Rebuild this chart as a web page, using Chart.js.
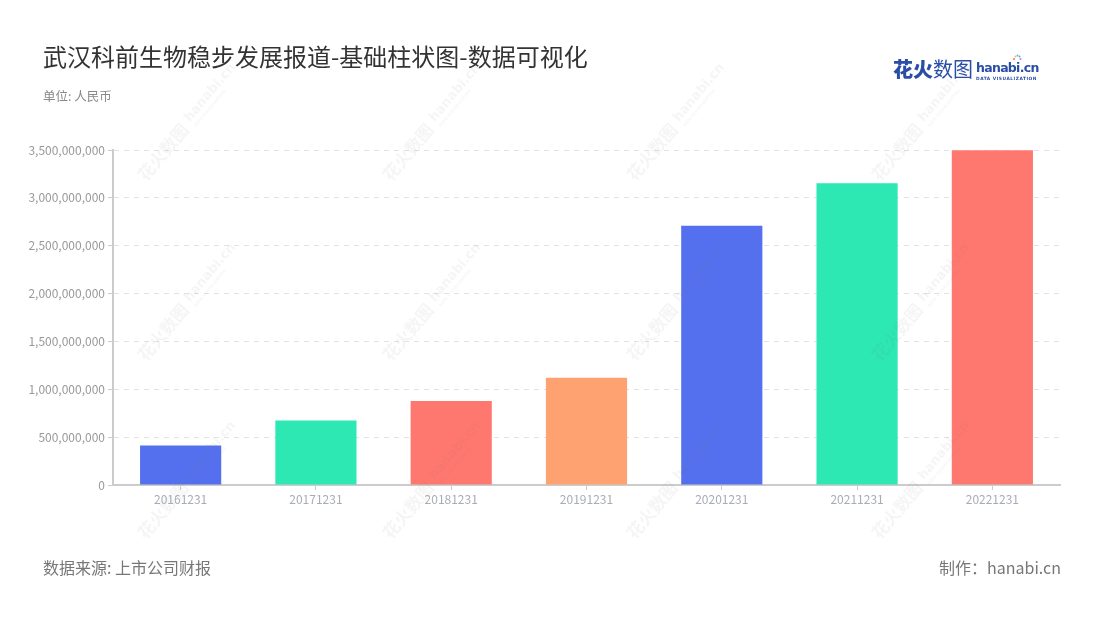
<!DOCTYPE html>
<html>
<head>
<meta charset="utf-8">
<script src="https://cdn.jsdelivr.net/npm/chart.js@4.4.1/dist/chart.umd.min.js"></script>
<style>
  html, body { margin: 0; padding: 0; background: #fff; }
  body { width: 1100px; height: 620px; position: relative; overflow: hidden; font-family: "Noto Sans CJK SC", "Noto Sans", sans-serif; }
  #wrap { position: absolute; left: 0; top: 0; width: 1100px; height: 620px; }
  .title { position: absolute; left: 43px; top: 39px; font-size: 24px; color: #333; line-height: 34px; white-space: nowrap; }
  .unit { position: absolute; left: 43px; top: 86px; font-size: 12.5px; color: #888; line-height: 20px; }
  .src { position: absolute; left: 43px; top: 555px; font-size: 16px; color: #777; line-height: 24px; }
  .made { position: absolute; right: 39px; top: 555px; font-size: 16px; color: #777; line-height: 24px; }
  .logo { position: absolute; left: 893px; top: 56px; height: 28px; white-space: nowrap; }
  .logo .cn { font-size: 20px; font-weight: 900; color: #2a4ea6; line-height: 26px; vertical-align: top; display: inline-block; }
  .logo .cn2 { font-weight: 400; }
  .logo .en { display: inline-block; vertical-align: top; margin-left: 3px; position: relative; top: 3px; }
  .logo .en .big { font-family: "DejaVu Sans", sans-serif; font-size: 12.5px; font-weight: bold; color: #2a4ea6; line-height: 17px; letter-spacing: -0.7px; display: block; }
  .logo .en .small { font-family: "DejaVu Sans", sans-serif; font-size: 4.4px; font-weight: bold; color: #2a4ea6; letter-spacing: 0.5px; line-height: 6px; display: block; }
  .logo .spark { position: absolute; left: 36px; top: -5px; width: 10px; height: 8px; }
</style>
</head>
<body>
<div id="wrap"><canvas id="c" width="1100" height="620"></canvas></div>
<div class="title">武汉科前生物稳步发展报道-基础柱状图-数据可视化</div>
<div class="unit">单位: 人民币</div>
<div class="logo"><span class="cn">花火<span class="cn2">数图</span></span><span class="en"><span class="big">hanabi.cn</span><span class="small">DATA VISUALIZATION</span>
<svg class="spark" viewBox="0 0 10 8"><circle cx="2" cy="5" r="1" fill="#ff6b6b"/><circle cx="3.5" cy="2.5" r="1" fill="#ffb84d"/><circle cx="5.5" cy="1.5" r="1" fill="#4dd0a0"/><circle cx="7.5" cy="2.5" r="1" fill="#4da6ff"/><circle cx="8.5" cy="5" r="1" fill="#b07cff"/></svg></span></div>
<div class="src">数据来源: 上市公司财报</div>
<div class="made">制作：hanabi.cn</div>
<script>
const categories = ["20161231", "20171231", "20181231", "20191231", "20201231", "20211231", "20221231"];
const values = [413000000, 674000000, 878000000, 1121000000, 2709000000, 3152000000, 3497000000];
const barColors = ["#5570EE", "#2DE8B3", "#FF7870", "#FFA272", "#5570EE", "#2DE8B3", "#FF7870"];
const yTicks = [0, 500000000, 1000000000, 1500000000, 2000000000, 2500000000, 3000000000, 3500000000];

const watermark = {
  id: 'watermark',
  afterDatasetsDraw(chart) {
    const ctx = chart.ctx;
    ctx.save();
    const xs = [163, 408, 652, 897];
    const ys = [152, 332, 510];
    for (const y of ys) {
      for (const x of xs) {
        ctx.save();
        ctx.translate(x, y);
        ctx.rotate(-50 * Math.PI / 180);
        ctx.textBaseline = 'middle';
        ctx.fillStyle = 'rgba(120,120,120,0.07)';
        ctx.font = 'bold 17px "Noto Sans CJK SC"';
        ctx.textAlign = 'center';
        ctx.fillText('花火数图', 0, 0);
        ctx.textAlign = 'left';
        ctx.font = 'bold 13px "DejaVu Sans"';
        ctx.fillText('hanabi.cn', 40, -2);
        ctx.font = 'bold 4px "DejaVu Sans"';
        ctx.fillText('DATA VISUALIZATION', 40, 8);
        ctx.restore();
      }
    }
    ctx.restore();
  }
};

new Chart(document.getElementById('c'), {
  type: 'bar',
  data: {
    labels: categories,
    datasets: [{
      data: values,
      backgroundColor: barColors,
      borderWidth: 0,
      categoryPercentage: 1.0,
      barPercentage: 0.6
    }]
  },
  options: {
    responsive: false,
    animation: false,
    devicePixelRatio: 1,
    layout: { padding: { top: 150, right: 40, bottom: 0, left: 0 } },
    plugins: { legend: { display: false }, tooltip: { enabled: false } },
    scales: {
      x: {
        offset: true,
        grid: { display: true, drawOnChartArea: false, drawTicks: true, tickLength: 5, offset: false, tickColor: '#ccc', tickWidth: 1 },
        border: { display: true, color: '#ccc', width: 2 },
        ticks: { color: '#a8acb6', font: { family: '"Noto Sans CJK SC"', size: 12 }, padding: 2, maxRotation: 0 },
        afterFit(scale) { scale.height = 135; }
      },
      y: {
        min: 0, max: 3500000000,
        afterBuildTicks(scale) { scale.ticks = yTicks.map(v => ({ value: v })); },
        grid: { color: '#e2e2e2', lineWidth: 1, drawTicks: true, tickLength: 5, tickColor: '#ccc', tickBorderDash: [] },
        border: { display: true, color: '#ccc', width: 2, dash: [5, 5] },
        ticks: {
          color: '#999', font: { family: '"Noto Sans CJK SC"', size: 12 }, padding: 3,
          callback: v => Number(v).toLocaleString('en-US')
        },
        afterFit(scale) { scale.width = 113; }
      }
    }
  },
  plugins: [watermark]
});
</script>
</body>
</html>
